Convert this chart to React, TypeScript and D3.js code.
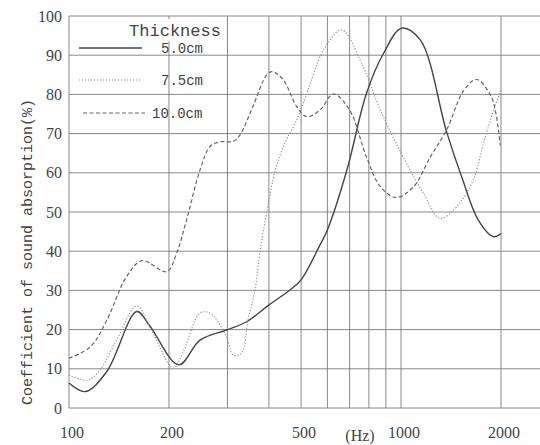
import React from 'react'
import { scaleLog, scaleLinear, line, curveCatmullRom } from 'd3'

const W = 540
const H = 445

// 5.0cm (solid)
const freq50 = [100, 112, 130, 160, 175, 214, 248, 298, 343, 400, 463, 500, 570, 600, 687, 787, 886, 1005, 1143, 1371, 1528, 1707, 1900, 2000]
const abs50 = [6.4, 4.2, 9.3, 24.6, 21, 11, 17.3, 19.9, 22, 26.3, 30.1, 32.7, 41.6, 45.4, 60.7, 80.3, 90.5, 96.9, 93.9, 70.5, 58.6, 48, 43.7, 44.5]

// 7.5cm (dotted)
const freq75 = [100, 114, 124, 139, 160, 179, 206, 220, 248, 266, 298, 312, 331, 346, 363, 376, 395, 417, 442, 485, 508, 590, 663, 769, 866, 1015, 1167, 1310, 1470, 1650, 1771, 1900, 2000]
const abs75 = [8.4, 7.1, 9.7, 17.3, 26, 19, 10.2, 14, 24.2, 24.2, 18.2, 13.5, 14, 22.4, 30.1, 39.9, 50.5, 60.3, 66.7, 73.5, 77.8, 92, 96.4, 87, 76, 64, 54.8, 48.4, 51.3, 58.2, 67.5, 76, 81]

// 10.0cm (dashed)
const freq100 = [100, 116, 130, 149, 166, 197, 211, 226, 248, 266, 285, 312, 327, 358, 394, 410, 442, 485, 520, 570, 626, 700, 787, 866, 967, 1092, 1224, 1371, 1545, 1690, 1860, 1930, 1990]
const abs100 = [12.7, 15.6, 22.4, 33.5, 37.6, 34.8, 39.5, 48, 60.7, 66.7, 67.9, 68, 69.6, 76.9, 85, 85.8, 83.7, 76.9, 74.3, 76, 80.1, 76, 64, 56.5, 53.7, 56.5, 64, 70.9, 81, 83.8, 79.8, 75.2, 67]

const yTicks = [0, 10, 20, 30, 40, 50, 60, 70, 80, 90, 100]
const xGrid = [100, 200, 300, 400, 500, 600, 700, 800, 900, 1000, 2000]
const xLabels = [100, 200, 500, 1000, 2000]

const seriesNames = ['5.0cm', '7.5cm', '10.0cm']

const x = scaleLog().domain([100, 2000]).range([69, 501])
const y = scaleLinear().domain([0, 100]).range([408, 16])

const styles = [
  { stroke: '#454545', strokeWidth: 1.4, dash: undefined },
  { stroke: '#8a8a8a', strokeWidth: 1.1, dash: '1.2,1.8' },
  { stroke: '#666', strokeWidth: 1.2, dash: '4,2.5' }
]

const makePath = (fs: number[], vs: number[]) => {
  const pts = fs.map((f, i) => [f, vs[i]] as [number, number])
  return line<[number, number]>()
    .x(d => x(d[0]))
    .y(d => y(d[1]))
    .curve(curveCatmullRom.alpha(0.5))(pts)
}

export default function App() {
  const series = [
    makePath(freq50, abs50),
    makePath(freq75, abs75),
    makePath(freq100, abs100)
  ]
  const serif = '"Liberation Serif", "DejaVu Serif", serif'
  const mono = '"Liberation Mono", "DejaVu Sans Mono", monospace'
  const gridStyle = { stroke: '#7a7a7a', strokeWidth: 0.9 }
  const legendY = [48, 80, 113]

  return (
    <svg width={W} height={H} style={{ position: 'absolute', left: 0, top: 0, background: '#fff' }}>
      {/* horizontal grid */}
      {yTicks.map(t => (
        <line key={'h' + t} x1={69} x2={W} y1={y(t)} y2={y(t)} style={gridStyle} />
      ))}
      {/* vertical grid */}
      {xGrid.map(f => (
        <line key={'v' + f} x1={x(f)} x2={x(f)} y1={y(100)} y2={y(0)} style={gridStyle} />
      ))}

      {/* y tick labels */}
      {yTicks.map(t => (
        <text key={'yl' + t} x={62} y={y(t)} dy="0.35em" textAnchor="end" fontFamily={serif} fontSize={16} fill="#444">
          {t}
        </text>
      ))}
      {/* x tick labels */}
      {xLabels.map(f => (
        <text key={'xl' + f} x={x(f) + 3} y={438} textAnchor="middle" fontFamily={serif} fontSize={16} fill="#444">
          {f}
        </text>
      ))}
      <text x={360} y={441} textAnchor="middle" fontFamily={serif} fontSize={16} fill="#444">
        (Hz)
      </text>

      {/* y axis title */}
      <g transform="translate(27,252)">
        <text transform="rotate(-90)" textAnchor="middle" dy="0.35em" fontFamily={mono} fontSize={15} fill="#444">
          Coefficient of sound absorption(%)
        </text>
      </g>

      {/* curves */}
      {series.map((d, i) => (
        <path
          key={'s' + i}
          d={d || ''}
          fill="none"
          stroke={styles[i].stroke}
          strokeWidth={styles[i].strokeWidth}
          strokeDasharray={styles[i].dash}
        />
      ))}

      {/* legend */}
      <rect x={76} y={19} width={150} height={22} fill="#fff" />
      <text x={175} y={30} dy="0.35em" textAnchor="middle" fontFamily={mono} fontSize={17} fill="#444">
        Thickness
      </text>
      {seriesNames.map((name, i) => (
        <g key={'lg' + i}>
          <line
            x1={i === 2 ? 83 : 79}
            x2={i === 2 ? 145 : 142}
            y1={legendY[i]}
            y2={legendY[i]}
            stroke={styles[i].stroke}
            strokeWidth={styles[i].strokeWidth}
            strokeDasharray={styles[i].dash}
          />
          <text x={i === 2 ? 152 : 161} y={legendY[i]} dy="0.35em" fontFamily={mono} fontSize={14} fill="#444">
            {name}
          </text>
        </g>
      ))}
    </svg>
  )
}
